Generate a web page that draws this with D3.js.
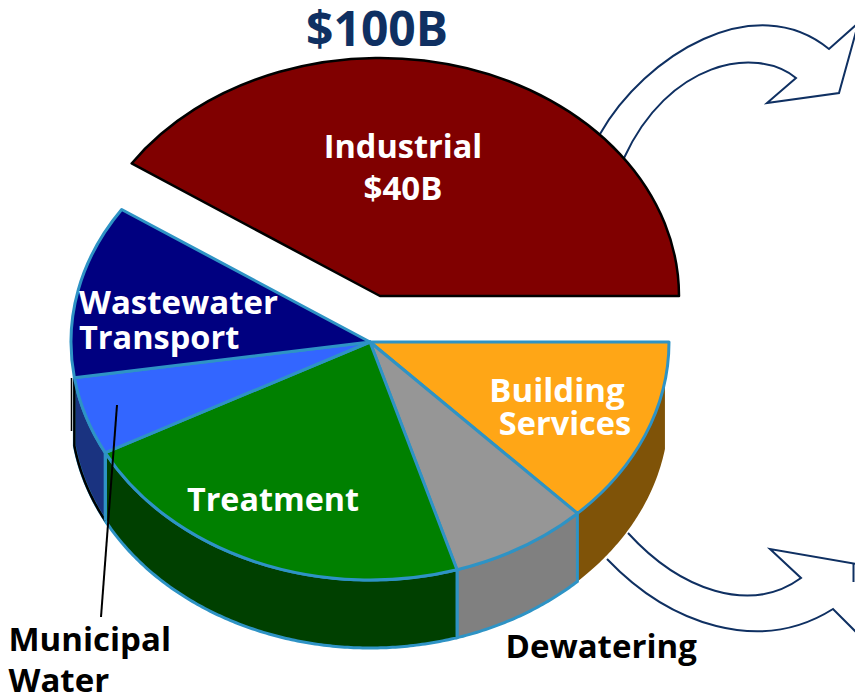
<!DOCTYPE html>
<html><head><meta charset="utf-8">
<script src="https://cdn.jsdelivr.net/npm/d3@7"></script>
<style>html,body{margin:0;padding:0;background:#fff}svg{display:block}text{font-family:"Open Sans",sans-serif;font-weight:700}</style>
</head><body><svg id="c" width="855" height="696"></svg>
<script>
const categories = ["Building Services","Dewatering","Treatment","Municipal Water","Wastewater Transport","Industrial"];
const shares = [12.8,7.5,22,5.3,11.8,40.6];
const topColors = ["#ffa616","#969696","#008000","#3366ff","#000080","#800000"];
const wallColors = ["#7f5308","#808080","#004000","#1a3380",null,null];
const title = "$100B";

const W=855,H=696, rx=299, ry=238, depth=68, cx=370, cy=342, ix=380, iy=296;
const blue="#2e93c5", navy="#0f3062";
const svg=d3.select("#c");
const pieGen=d3.pie().value(d=>d.v).sort(null).startAngle(Math.PI/2).endAngle(Math.PI*2.5);
const arcs=pieGen(categories.map((c,i)=>({c,v:shares[i],top:topColors[i],wall:wallColors[i]})));
const arc=d3.arc().innerRadius(0).outerRadius(rx);
const px=a=>rx*Math.sin(a), py=a=>-ry*Math.cos(a);

// arrows
const arrows=svg.append("g").attr("fill","none").attr("stroke",navy).attr("stroke-width",2).attr("stroke-linejoin","miter");
const p1=d3.path();
p1.moveTo(600,134); p1.bezierCurveTo(645,55,755,-12,829,49);
p1.lineTo(857,24); p1.lineTo(857,28); p1.lineTo(839,93); p1.lineTo(767,103); p1.lineTo(796,78);
p1.bezierCurveTo(755,45,668,62,624,158);
arrows.append("path").attr("d",p1.toString());
const p2=d3.path();
p2.moveTo(628,533); p2.bezierCurveTo(680,590,750,615,801,578); p2.lineTo(770,549); p2.lineTo(857,564);
arrows.append("path").attr("d",p2.toString());
const p3=d3.path();
p3.moveTo(607,559); p3.bezierCurveTo(670,625,760,655,833,609); p3.lineTo(857,633);
arrows.append("path").attr("d",p3.toString());
arrows.append("path").attr("d","M853.5,563V582");

// walls
const wallLine=d3.line().curve(d3.curveLinear);
const g=svg.append("g").attr("transform",`translate(${cx},${cy})`);
const startClamp=a=>Math.max(a,Math.PI/2+0.165);
arcs.filter(d=>d.data.wall).forEach(d=>{
  const s=startClamp(d.startAngle), e=Math.min(d.endAngle,Math.PI*1.5);
  const angles=d3.range(s,e,0.01).concat([e]);
  const t=angles.map(a=>[px(a),py(a)]);
  const b=angles.map(a=>[px(a),py(a)+depth]).reverse();
  const isB=d.data.c==="Building Services", isM=d.data.c==="Municipal Water";
  g.append("path").attr("d",wallLine(t.concat(b))+"Z").attr("fill",d.data.wall)
   .attr("stroke",isB?"none":blue).attr("stroke-width",3);
  if(isM){
    g.append("path").attr("d",wallLine([[px(e),py(e)]].concat(b)))
     .attr("fill","none").attr("stroke","#000").attr("stroke-width",2.5);
    g.append("path").attr("d",wallLine([[px(d.startAngle),py(d.startAngle)],[px(d.startAngle),py(d.startAngle)+depth]]))
     .attr("fill","none").attr("stroke",blue).attr("stroke-width",3);
  }
});

// top faces
const k=ry/rx;
const face=g.append("g").attr("transform",`scale(1,${k})`);
face.selectAll("path").data(arcs.filter(d=>d.data.c!=="Industrial")).join("path")
 .attr("d",arc).attr("fill",d=>d.data.top).attr("stroke",blue).attr("stroke-width",3)
 .attr("stroke-linejoin","round").attr("vector-effect","non-scaling-stroke");
const ind=svg.append("g").attr("transform",`translate(${ix},${iy}) scale(1,${k})`);
ind.selectAll("path").data(arcs.filter(d=>d.data.c==="Industrial")).join("path")
 .attr("d",arc).attr("fill",d=>d.data.top).attr("stroke","#000").attr("stroke-width",2.5)
 .attr("stroke-linejoin","round").attr("vector-effect","non-scaling-stroke");

// leader & stray edge
svg.append("line").attr("x1",117).attr("y1",405).attr("x2",101).attr("y2",617).attr("stroke","#000").attr("stroke-width",2);
svg.append("line").attr("x1",71.5).attr("y1",378).attr("x2",71.5).attr("y2",431).attr("stroke","#000").attr("stroke-width",1.5);

// labels
const labels=[
 [title,377,46,48,navy,"middle"],
 ["Industrial",403,158,32.5,"#fff","middle"],
 ["$40B",403,200,33,"#fff","middle"],
 ["Wastewater",79,314,33,"#fff","start"],
 ["Transport",79,349,32.5,"#fff","start"],
 ["Building",557,402,33,"#fff","middle"],
 ["Services",565,435,32.5,"#fff","middle"],
 ["Treatment",273,511,32.3,"#fff","middle"],
 ["Municipal",8.5,651,33,"#000","start"],
 ["Water",8.5,692,33,"#000","start"],
 ["Dewatering",505.5,658,33,"#000","start"]];
svg.append("g").selectAll("text").data(labels).join("text")
 .attr("x",d=>d[1]).attr("y",d=>d[2]).attr("font-size",d=>d[3]).attr("fill",d=>d[4]).attr("text-anchor",d=>d[5]).text(d=>d[0]);
</script></body></html>
